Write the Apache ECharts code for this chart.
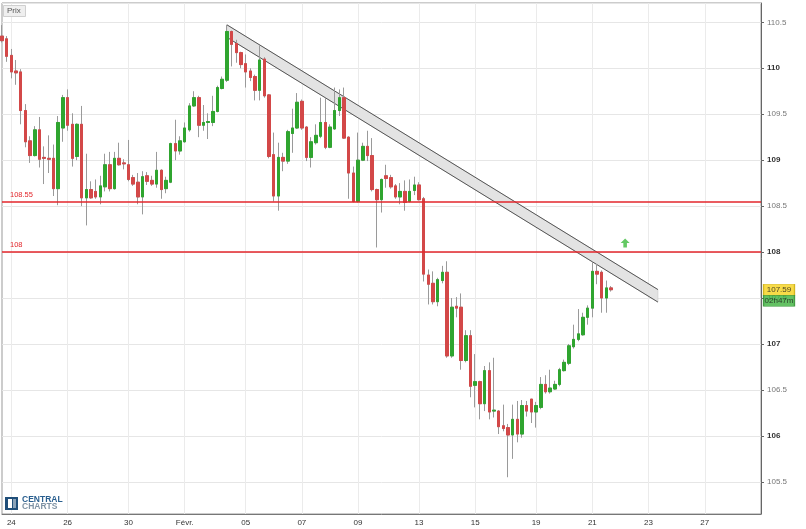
<!DOCTYPE html>
<html><head><meta charset="utf-8">
<script src="https://cdn.jsdelivr.net/npm/echarts@6/dist/echarts.min.js"></script>
<style>html,body{margin:0;padding:0;background:#fff}#c{width:806px;height:529px}</style>
</head><body><div id="c"></div>
<script>
// ---- 4h slots (categories) ----
const F = ['01h','05h','09h','13h','17h','21h'];
const daySlots = [
 ['01-23',['17h','21h']],
 ['01-24',F],['01-25',F],['01-26',F],['01-28',['23h']],
 ['01-29',F],['01-30',F],['01-31',F],['02-01',F],['02-02',F],['02-04',['23h']],
 ['02-05',F],['02-06',F],['02-07',F],['02-08',F],['02-09',F],['02-11',['23h']],
 ['02-12',F],['02-13',F],['02-14',F],['02-15',F],['02-16',F],['02-18',['23h']],
 ['02-19',F],['02-20',F],['02-21',F],['02-22',F],['02-23',F],
 ['02-26',F],['02-27',F],['02-28',F],['03-01',['01h']]
];
// ---- tick labels ----
const tickDays  = ['01-24','01-26','01-30','02-01','02-05','02-07','02-09','02-13','02-15','02-19','02-21','02-23','02-27'];
const tickTexts = ['24','26','30','Févr.','05','07','09','13','15','19','21','23','27'];

// ---- OHLC ----
const opens = [110.35,110.32,110.14,109.97,109.96,109.54,109.21,109.05,109.33,109.03,109.02,109.02,108.69,109.35,109.68,109.39,109.04,109.39,108.59,108.68,
108.66,108.60,108.71,108.95,108.69,109.02,108.97,108.95,108.81,108.76,108.60,108.83,108.78,108.74,108.89,108.69,108.76,109.18,109.10,109.20,
109.33,109.59,109.68,109.38,109.41,109.41,109.53,109.78,109.87,110.40,110.27,110.17,110.05,109.97,109.91,109.76,110.10,109.71,109.06,108.61,
109.03,108.99,109.29,109.35,109.64,109.36,109.03,109.19,109.26,109.41,109.14,109.34,109.54,109.68,109.25,108.86,108.55,109.00,109.15,109.05,
108.68,108.57,108.83,108.81,108.72,108.60,108.66,108.55,108.67,108.73,108.58,107.75,107.66,107.46,107.69,107.78,106.87,107.41,107.40,106.82,
107.09,106.55,106.59,106.35,106.71,106.27,106.27,106.11,106.09,106.01,106.18,106.02,106.33,106.40,106.26,106.31,106.56,106.48,106.51,106.56,
106.71,106.79,106.97,107.05,107.10,107.29,107.39,107.79,107.78,107.50,107.61];
const closes = [110.30,110.13,109.96,109.95,109.54,109.20,109.05,109.33,109.01,109.02,109.01,108.69,109.41,109.68,109.38,109.02,109.39,108.59,108.68,108.59,
108.60,108.72,108.95,108.69,109.02,108.95,108.96,108.79,108.74,108.60,108.82,108.77,108.74,108.89,108.68,108.78,109.18,109.10,109.21,109.35,
109.59,109.68,109.38,109.41,109.42,109.53,109.79,109.88,110.40,110.26,110.17,110.04,109.96,109.90,109.76,110.09,109.70,109.04,108.61,109.03,
108.99,109.31,109.35,109.63,109.35,109.03,109.20,109.27,109.41,109.14,109.36,109.54,109.68,109.24,108.86,108.55,109.00,109.15,109.05,108.68,
108.57,108.79,108.80,108.71,108.60,108.66,108.54,108.66,108.73,108.57,107.76,107.65,107.46,107.70,107.78,106.87,107.40,107.39,106.82,107.09,
106.54,106.59,106.35,106.71,106.26,106.28,106.10,106.08,106.01,106.18,106.02,106.33,106.27,106.26,106.33,106.56,106.48,106.52,106.56,106.72,
106.80,106.98,107.05,107.11,107.29,107.39,107.79,107.76,107.50,107.61,107.59];
const lows = [110.28,110.07,109.89,109.82,109.39,109.14,108.97,109.04,108.92,108.74,108.86,108.61,108.51,109.20,109.32,108.93,109.00,108.50,108.29,108.58,
108.58,108.52,108.66,108.66,108.68,108.94,108.90,108.77,108.72,108.52,108.41,108.73,108.72,108.70,108.58,108.64,108.75,109.00,109.06,109.19,
109.31,109.58,109.25,109.32,109.23,109.37,109.52,109.77,109.85,110.02,110.06,110.00,109.79,109.86,109.65,109.65,109.68,109.02,108.55,108.45,
108.88,108.96,109.08,109.34,109.33,108.99,108.92,109.17,109.24,109.12,109.13,109.33,109.48,109.23,108.58,108.54,108.54,108.99,108.99,108.66,
108.05,108.43,108.70,108.69,108.58,108.52,108.45,108.54,108.62,108.56,107.68,107.43,107.43,107.41,107.66,106.85,106.85,107.29,106.72,106.80,
106.42,106.31,106.18,106.27,106.18,106.20,106.02,106.05,105.55,105.75,105.93,105.98,106.21,106.14,106.09,106.29,106.46,106.46,106.50,106.54,
106.70,106.77,106.95,107.03,107.09,107.21,107.29,107.65,107.34,107.34,107.57];
const highs = [110.47,110.35,110.21,110.09,109.99,109.61,109.26,109.37,109.47,109.15,109.27,109.17,109.48,109.71,109.77,109.51,109.40,109.59,109.07,108.77,
108.79,108.83,109.07,109.09,109.09,109.19,109.01,109.22,108.84,108.86,108.88,108.87,108.83,109.09,108.90,108.82,109.19,109.44,109.26,109.41,
109.62,109.75,109.70,109.60,109.51,109.70,109.81,109.91,110.47,110.41,110.31,110.18,110.15,110.00,109.93,110.25,110.12,109.72,109.30,109.19,
109.08,109.33,109.56,109.73,109.66,109.37,109.25,109.39,109.68,109.68,109.39,109.79,109.77,109.79,109.26,108.93,109.30,109.19,109.32,109.24,
108.69,108.80,108.95,108.84,108.74,108.75,108.78,108.79,108.82,108.76,108.60,107.81,107.79,107.72,107.85,107.90,107.50,107.51,107.55,107.15,
107.15,106.89,106.60,106.76,106.80,106.85,106.28,106.34,106.13,106.34,106.38,106.39,106.38,106.40,106.37,106.64,106.66,106.72,106.60,106.74,
106.83,107.00,107.21,107.38,107.34,107.42,107.90,107.87,107.80,107.69,107.63];

// ---- horizontal levels ----
const levelValues = [108.55, 108];
const levelLabels = ['108.55', '108'];
// ---- descending channel (slot index, upper price, lower price) ----
const channelStart = [48, 110.473, 110.337];
const channelEnd   = [140, 107.592, 107.456];
// ---- signal arrow ----
const signalSlot = 133, signalPrice = 108.10;
// ---- last price tag ----
const lastPriceText = '107.59', countdownText = '02h47m';

const categories = [];
daySlots.forEach(([d, hs]) => hs.forEach(h => categories.push(d + ' ' + h)));
const tickMap = {};
tickDays.forEach((d, i) => { tickMap[d + ' 01h'] = tickTexts[i]; });

const wickData = opens.map((o, i) => [o, closes[i], lows[i], highs[i]]);
const bodyData = opens.map((o, i) => [o, closes[i], Math.min(o, closes[i]), Math.max(o, closes[i])]);
const lastIdx = categories.length - 1;
const lastClose = closes[closes.length - 1];

const FONT = "'Liberation Sans', Arial, sans-serif";
const chart = echarts.init(document.getElementById('c'), null, {renderer: 'canvas'});
chart.setOption({
  animation: false,
  backgroundColor: '#fff',
  textStyle: {fontFamily: FONT},
  grid: {left: 2, right: 45, top: 3, bottom: 15, show: true, borderColor: '#999', borderWidth: 1, outerBoundsMode: 'none', containLabel: false},
  xAxis: {
    type: 'category', data: categories, boundaryGap: false,
    axisLine: {lineStyle: {color: '#777'}},
    axisTick: {show: false},
    axisLabel: {
      interval: (idx, val) => tickMap[val] !== undefined,
      formatter: val => tickMap[val] || '',
      fontSize: 8, color: '#333', margin: 5, fontFamily: FONT
    },
    splitLine: {show: true, interval: (idx, val) => tickMap[val] !== undefined, lineStyle: {color: '#ebebeb'}}
  },
  yAxis: {
    type: 'value', position: 'right', min: 105.15, max: 110.71, splitNumber: 11,
    axisLine: {show: true, lineStyle: {color: '#666'}},
    axisTick: {show: true, length: 3, lineStyle: {color: '#666'}},
    splitLine: {lineStyle: {color: '#e6e6e6'}},
    axisLabel: {
      showMinLabel: false, showMaxLabel: false, margin: 6, fontFamily: FONT,
      formatter: v => Math.abs(v - Math.round(v)) < 1e-6 ? '{b|' + Math.round(v) + '}' : '{n|' + v + '}',
      rich: {b: {fontSize: 8, fontWeight: 'bold', color: '#333', fontFamily: FONT}, n: {fontSize: 8, color: '#777', fontFamily: FONT}}
    }
  },
  graphic: [
    {type: 'rect', left: 3, top: 5, shape: {width: 22, height: 11}, style: {fill: '#efefef', stroke: '#cfcfcf', lineWidth: 1}, z: 100},
    {type: 'text', left: 7, top: 7, style: {text: 'Prix', fontSize: 8, fill: '#555', fontFamily: FONT}, z: 101},
    {type: 'rect', left: 5, top: 497, shape: {width: 13, height: 13}, style: {fill: '#1f4e79'}, z: 100},
    {type: 'rect', left: 8, top: 499, shape: {width: 4, height: 9}, style: {fill: '#ffffff'}, z: 101},
    {type: 'rect', left: 13, top: 499, shape: {width: 3, height: 9}, style: {fill: '#8aa2b8'}, z: 101},
    {type: 'text', left: 22, top: 495, style: {text: 'CENTRAL', fontSize: 8.5, fontWeight: 'bold', fill: '#2a5f8f', fontFamily: FONT}, z: 100},
    {type: 'text', left: 22, top: 502.5, style: {text: 'CHARTS', fontSize: 8.5, fontWeight: 'bold', fill: '#7f93a5', fontFamily: FONT}, z: 100}
  ],
  series: [
    {
      type: 'custom', z: 1, clip: true,
      encode: {x: [0, 3], y: [1, 2, 4, 5]},
      data: [[channelStart[0], channelStart[1], channelStart[2], channelEnd[0], channelEnd[1], channelEnd[2]]],
      renderItem: (params, api) => {
        const a = api.coord([api.value(0), api.value(1)]);
        const b = api.coord([api.value(3), api.value(4)]);
        const c = api.coord([api.value(3), api.value(5)]);
        const d = api.coord([api.value(0), api.value(2)]);
        return {type: 'group', children: [
          {type: 'polygon', shape: {points: [a, b, c, d]}, style: {fill: '#e3e3e3', stroke: '#c8c8c8', lineWidth: 0.6}},
          {type: 'line', shape: {x1: a[0], y1: a[1], x2: b[0], y2: b[1]}, style: {stroke: '#555', lineWidth: 1}},
          {type: 'line', shape: {x1: d[0], y1: d[1], x2: c[0], y2: c[1]}, style: {stroke: '#555', lineWidth: 1}}
        ]};
      }
    },
    {
      type: 'candlestick', name: 'wick', data: wickData, barWidth: 3, z: 2,
      itemStyle: {color: '#999', color0: '#999', borderColor: '#9a9a9a', borderColor0: '#9a9a9a', borderWidth: 1},
      markLine: {
        symbol: 'none', silent: true, animation: false,
        lineStyle: {color: '#e3262b', width: 1.6, type: 'solid'},
        label: {position: 'insideStartTop', formatter: '{b}', color: '#e3262b', fontSize: 7.5, distance: 3, padding: [0, 0, 0, 5], fontFamily: FONT},
        data: levelValues.map((v, i) => ({yAxis: v, name: levelLabels[i]}))
      }
    },
    {
      type: 'candlestick', name: 'body', data: bodyData, barWidth: 3, z: 3,
      itemStyle: {color: '#2fa52f', color0: '#d34848', borderColor: '#2fa52f', borderColor0: '#d34848', borderWidth: 1}
    },
    {
      type: 'scatter', z: 4, clip: false,
      data: [[categories[signalSlot], signalPrice]],
      symbol: 'path://M5,0 L10,5 L7,5 L7,10 L3,10 L3,5 L0,5 Z', symbolSize: [9, 9],
      itemStyle: {color: '#3dbb3d'}
    },
    {
      type: 'scatter', z: 10, clip: false, silent: true,
      data: [
        {value: [categories[lastIdx], lastClose], symbolOffset: [18, 0], itemStyle: {color: '#f6d21a', borderColor: '#c9a800', borderWidth: 0.8},
         label: {formatter: lastPriceText}},
        {value: [categories[lastIdx], lastClose], symbolOffset: [18, 11], itemStyle: {color: '#3cb23c', borderColor: '#2a8a2a', borderWidth: 0.8},
         label: {formatter: countdownText}}
      ],
      symbol: 'rect', symbolSize: [31, 11],
      label: {show: true, position: 'inside', fontSize: 8, color: '#1a1a1a', fontFamily: FONT}
    }
  ]
});
</script>
</body></html>
